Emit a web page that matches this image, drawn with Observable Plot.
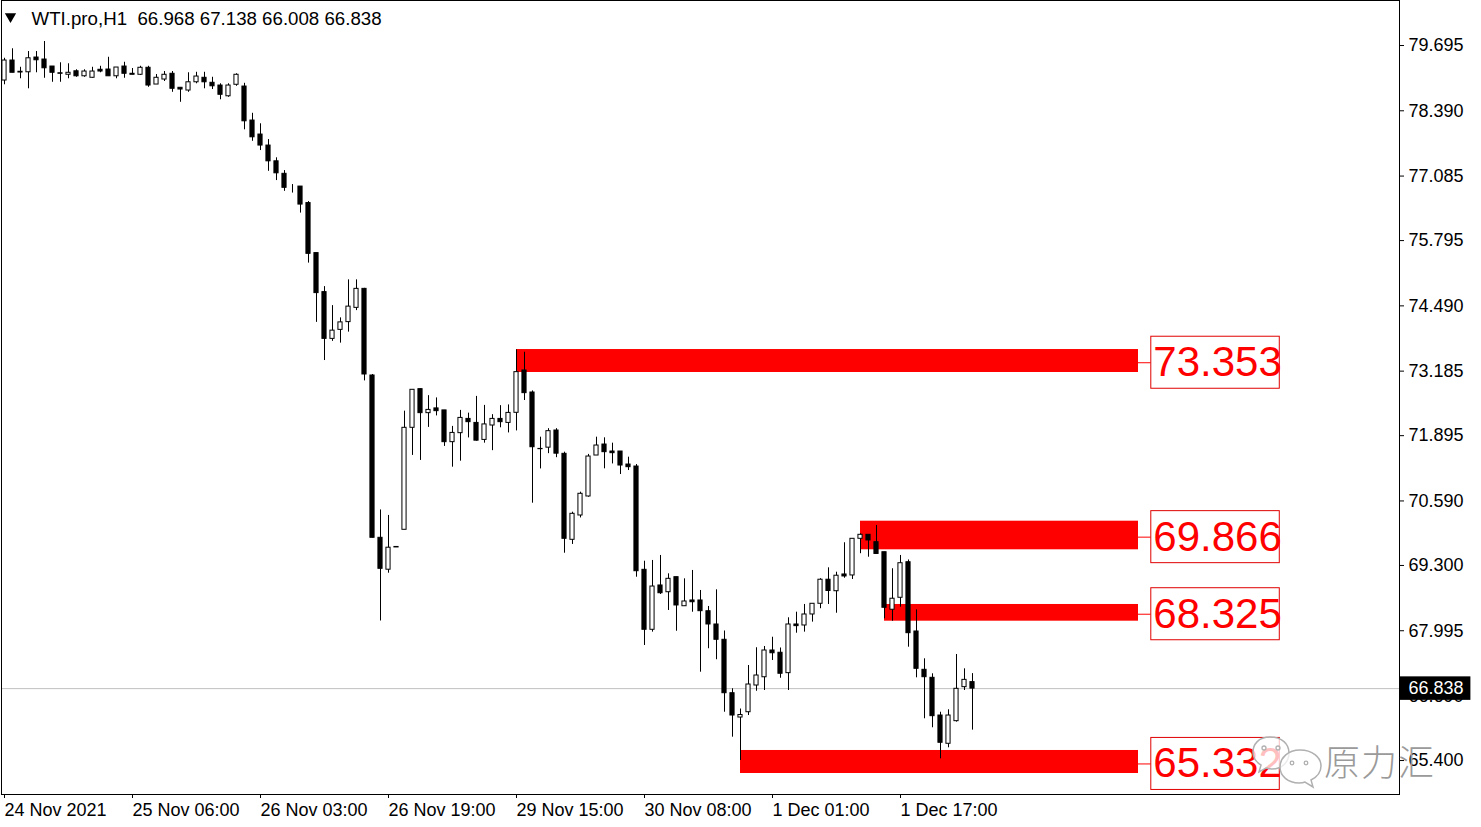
<!DOCTYPE html>
<html>
<head>
<meta charset="utf-8">
<script src="https://cdn.jsdelivr.net/npm/d3@7"></script>
<script src="https://cdn.jsdelivr.net/npm/@observablehq/plot@0.6"></script>
<style>
  html, body { margin: 0; padding: 0; background: #fff; }
  #wrap { position: relative; width: 1481px; height: 827px; overflow: hidden; }
  #wm { position: absolute; left: 1252px; top: 733px; pointer-events: none; }
  #wmtext { position: absolute; left: 1324px; top: 734px; font-family: "Noto Sans CJK SC", sans-serif; font-weight: 300; font-size: 36px; color: #9a9a9a; letter-spacing: 1px; pointer-events: none; }
</style>
</head>
<body>
<div id="wrap"></div>
<script>
// ---- Data (WTI.pro, H1) ----
const opens = [78.995,79.395,79.17,79.16,79.455,79.415,79.275,79.14,79.11,79.18,79.08,79.05,79.21,79.215,79.08,79.275,79.13,79.11,79.25,78.915,79.015,79.13,78.85,78.795,78.96,79.05,78.95,78.895,78.68,78.91,
78.875,78.195,77.915,77.695,77.38,77.13,76.85,76.875,76.545,75.545,74.765,73.83,74.01,74.165,74.45,74.83,73.098,69.853,69.215,69.67,
70.013,72.052,72.825,72.345,72.44,72.40,71.765,71.945,72.23,72.15,71.81,72.098,72.23,72.15,72.352,73.198,72.758,71.63,71.655,71.998,
71.532,69.813,70.299,70.679,71.498,71.718,71.578,71.578,71.318,71.278,69.213,68.014,68.90,68.765,69.066,68.485,68.60,68.60,68.385,68.12,
67.814,66.746,66.26,66.366,66.90,67.065,67.60,67.555,67.147,68.12,68.10,68.32,68.534,69.015,68.785,69.12,69.10,69.833,69.913,69.765,
69.565,68.415,68.654,69.365,67.98,67.214,67.054,66.30,65.735,66.187,66.867,66.968];
const highs = [79.44,79.63,79.26,79.575,79.575,79.775,79.275,79.35,79.33,79.21,79.21,79.26,79.28,79.46,79.255,79.36,79.235,79.28,79.28,79.115,79.175,79.175,78.85,79.15,79.16,79.16,79.06,78.93,78.93,79.13,
78.94,78.34,78.13,77.815,77.45,77.195,76.915,76.875,76.575,75.545,74.875,74.495,74.25,75.01,75.01,74.84,73.118,70.41,70.30,69.67,
72.385,72.812,72.83,72.695,72.65,72.40,72.08,72.40,72.345,72.68,72.50,72.315,72.495,72.51,73.61,73.563,72.79,71.865,72.035,72.035,
71.565,70.365,70.765,71.52,71.865,71.852,71.745,71.578,71.465,71.318,69.385,69.40,69.50,69.133,69.066,69.033,69.20,68.80,68.48,68.813,
67.99,66.835,66.43,67.30,67.655,67.68,67.865,67.65,68.254,68.366,68.52,68.534,69.035,69.253,69.165,69.754,69.833,69.933,69.913,70.10,
69.565,69.234,69.50,69.41,68.413,67.434,67.134,66.366,66.415,67.52,67.234,67.138];
const lows = [78.91,79.15,79.03,78.83,79.15,79.04,78.96,78.96,79.03,79.06,79.06,79.04,79.15,79.08,79.03,79.04,79.11,79.095,78.86,78.915,78.975,78.76,78.56,78.76,78.93,78.83,78.815,78.61,78.66,78.88,
78.01,77.78,77.595,77.18,76.995,76.78,76.745,76.345,75.345,74.16,73.397,73.78,73.745,73.965,74.395,72.99,69.85,68.19,69.145,69.66,
70.013,71.50,71.40,72.06,72.29,71.68,71.265,71.385,71.85,71.785,71.745,71.595,72.052,71.95,71.99,72.598,70.545,71.23,71.535,71.455,
69.545,69.72,70.25,70.665,71.498,71.232,71.33,71.118,71.198,69.065,67.70,67.967,68.72,68.40,67.985,68.485,68.365,67.166,67.635,67.415,
66.366,65.867,65.40,66.30,66.785,66.80,67.40,67.045,66.80,67.946,67.967,68.167,68.435,68.52,68.345,69.045,69.02,69.535,69.465,69.53,
68.233,68.185,68.465,67.666,67.054,66.235,66.055,65.434,65.655,66.168,66.80,66.008];
const closes = [79.395,79.15,79.155,79.44,79.40,79.24,79.15,79.13,79.15,79.08,79.175,79.175,79.175,79.08,79.255,79.13,79.11,79.25,78.895,79.05,79.11,78.83,78.815,78.96,79.075,78.96,78.88,78.71,78.895,79.11,
78.18,77.86,77.695,77.38,77.14,76.85,76.85,76.515,75.53,74.745,73.83,73.995,74.16,74.475,74.83,73.118,69.853,69.233,69.655,69.66,
72.052,72.812,72.345,72.41,72.385,71.765,71.95,72.25,72.165,71.795,72.12,72.23,72.165,72.35,73.165,72.745,71.664,71.625,71.985,71.535,
69.833,70.333,70.733,71.478,71.698,71.565,71.545,71.298,71.265,69.185,68.014,68.879,68.745,69.033,68.50,68.58,68.565,68.386,68.12,67.814,
66.746,66.30,66.31,66.92,67.10,67.60,67.545,67.135,68.12,68.087,68.32,68.534,69.015,68.79,69.095,69.08,69.833,69.913,69.80,69.53,
68.454,68.635,69.345,67.946,67.234,67.066,66.287,65.755,66.30,66.834,67.013,66.838];

const symbolName = "WTI.pro,H1";
const lastBar = {o: 66.968, h: 67.138, l: 66.008, c: 66.838};

const yTicks = [79.695, 78.390, 77.085, 75.795, 74.490, 73.185, 71.895, 70.590, 69.300, 67.995, 66.690, 65.400];
const xTickIdx = [0, 16, 32, 48, 64, 80, 96, 112];
const xTickLabels = ["24 Nov 2021", "25 Nov 06:00", "26 Nov 03:00", "26 Nov 19:00", "29 Nov 15:00", "30 Nov 08:00", "1 Dec 01:00", "1 Dec 17:00"];

// Support/resistance zones
const zoneStart = [64, 107, 110, 92];
const zoneTop = [73.617, 70.185, 68.52, 65.601];
const zoneBottom = [73.158, 69.613, 68.186, 65.141];
const zoneLabel = [73.353, 69.866, 68.325, 65.332];
const zoneEnd = 141.75;

const currentPrice = 66.838;

// ---- Build ----
const candles = opens.map((o, i) => ({i, o, h: highs[i], l: lows[i], c: closes[i], up: closes[i] >= o}));
const zones = zoneStart.map((s, k) => ({s, top: zoneTop[k], bottom: zoneBottom[k], label: zoneLabel[k]}));

const bodyHalf = 0.26;
const boxX1 = zoneEnd + 1.6, boxX2 = zoneEnd + 17.66, boxHalfH = 0.52;
const titleText = symbolName + "\u00a0\u00a0" + [lastBar.o, lastBar.h, lastBar.l, lastBar.c].map(v => v.toFixed(3)).join(" ");

const chart = Plot.plot({
  width: 1481,
  height: 827,
  marginLeft: 1,
  marginRight: 82,
  marginTop: 0,
  marginBottom: 33,
  x: {type: "linear", domain: [-0.375, 174.375], axis: null},
  y: {type: "linear", domain: [64.721, 80.595], axis: null},
  style: {fontFamily: "'Liberation Sans', Arial, sans-serif", fontSize: "18px", background: "#ffffff", color: "#000", overflow: "visible"},
  marks: [
    // zones
    Plot.rect(zones, {x1: "s", x2: () => zoneEnd, y1: "bottom", y2: "top", fill: "#ff0000"}),
    Plot.ruleY(zones, {y: "label", x1: () => zoneEnd, x2: () => boxX1, stroke: "#ff0000", strokeWidth: 1}),
    Plot.rect(zones, {x1: () => boxX1, x2: () => boxX2, y1: d => d.label - boxHalfH, y2: d => d.label + boxHalfH, fill: "#ffffff", stroke: "#e00000", strokeWidth: 1}),
    Plot.text(zones, {x: () => boxX1, y: "label", text: d => d.label.toFixed(3), dx: 2, textAnchor: "start", lineAnchor: "middle", fill: "#ff0000", fontSize: 42, fontFamily: "'Liberation Sans', Arial, sans-serif"}),
    // current price line
    Plot.ruleY([currentPrice], {stroke: "#c0c0c0", strokeWidth: 1}),
    // wicks
    Plot.ruleX(candles, {x: "i", y1: "l", y2: "h", stroke: "#000", strokeWidth: 1}),
    // bodies
    Plot.rect(candles, {
      x1: d => d.i - bodyHalf, x2: d => d.i + bodyHalf,
      y1: d => Math.min(d.o, d.c), y2: d => Math.max(d.o, d.c),
      fill: d => d.up ? "#ffffff" : "#000000", stroke: "#000", strokeWidth: 1
    }),
    // frame
    Plot.frame({stroke: "#000", strokeWidth: 1}),
    // axes
    Plot.axisY(yTicks, {anchor: "right", tickSize: 4, tickPadding: 5, tickFormat: d => d.toFixed(3), stroke: "#000"}),
    Plot.axisX(xTickIdx, {anchor: "bottom", tickSize: 4, tickPadding: 5, tickFormat: d => xTickLabels[xTickIdx.indexOf(d)], textAnchor: "start", stroke: "#000"}),
    // current price box
    Plot.rect([currentPrice], {x1: () => 174.4, x2: () => 183.3, y1: d => d - 0.235, y2: d => d + 0.235, fill: "#000"}),
    Plot.text([currentPrice], {frameAnchor: "right", y: d => d, text: d => d.toFixed(3), dx: 9, textAnchor: "start", lineAnchor: "middle", fill: "#fff"}),
    // title
    Plot.dot([0], {frameAnchor: "top-left", dx: 9, dy: 16, symbol: "triangle", rotate: 180, r: 4.2, fill: "#000", stroke: "none"}),
    Plot.text([titleText], {frameAnchor: "top-left", dx: 30, dy: 11, text: d => d, textAnchor: "start", lineAnchor: "top", fill: "#000", fontSize: 18.7})
  ]
});

const wrap = document.getElementById("wrap");
wrap.appendChild(chart);

// watermark (decoration)
const wm = document.createElement("div");
wm.id = "wm";
wm.innerHTML = `<svg width="74" height="62" viewBox="0 0 74 62">
  <g fill="rgba(255,255,255,0.75)" stroke="#b0b0b0" stroke-width="1.5">
    <path d="M18 4 C6 4 1 12 1 19 C1 25 4 29 9 32 L7 39 L14 35 C16 35.5 18 36 20 36 C31 36 37 28 37 20 C37 11 30 4 18 4 Z"/>
    <path d="M48 17 C36 17 28 25 28 34 C28 43 36 50 47 50 C49 50 51 50 53 49 L61 54 L59 47 C65 44 69 39 69 33 C69 24 60 17 48 17 Z"/>
  </g>
  <g fill="none" stroke="#b0b0b0" stroke-width="1.3">
    <circle cx="12" cy="15" r="2"/><circle cx="26" cy="15" r="2"/>
    <circle cx="40" cy="30" r="1.8"/><circle cx="54" cy="30" r="1.8"/>
  </g>
</svg>`;
wrap.appendChild(wm);
const wt = document.createElement("div");
wt.id = "wmtext";
wt.textContent = "原力汇";
wrap.appendChild(wt);
</script>
</body>
</html>
